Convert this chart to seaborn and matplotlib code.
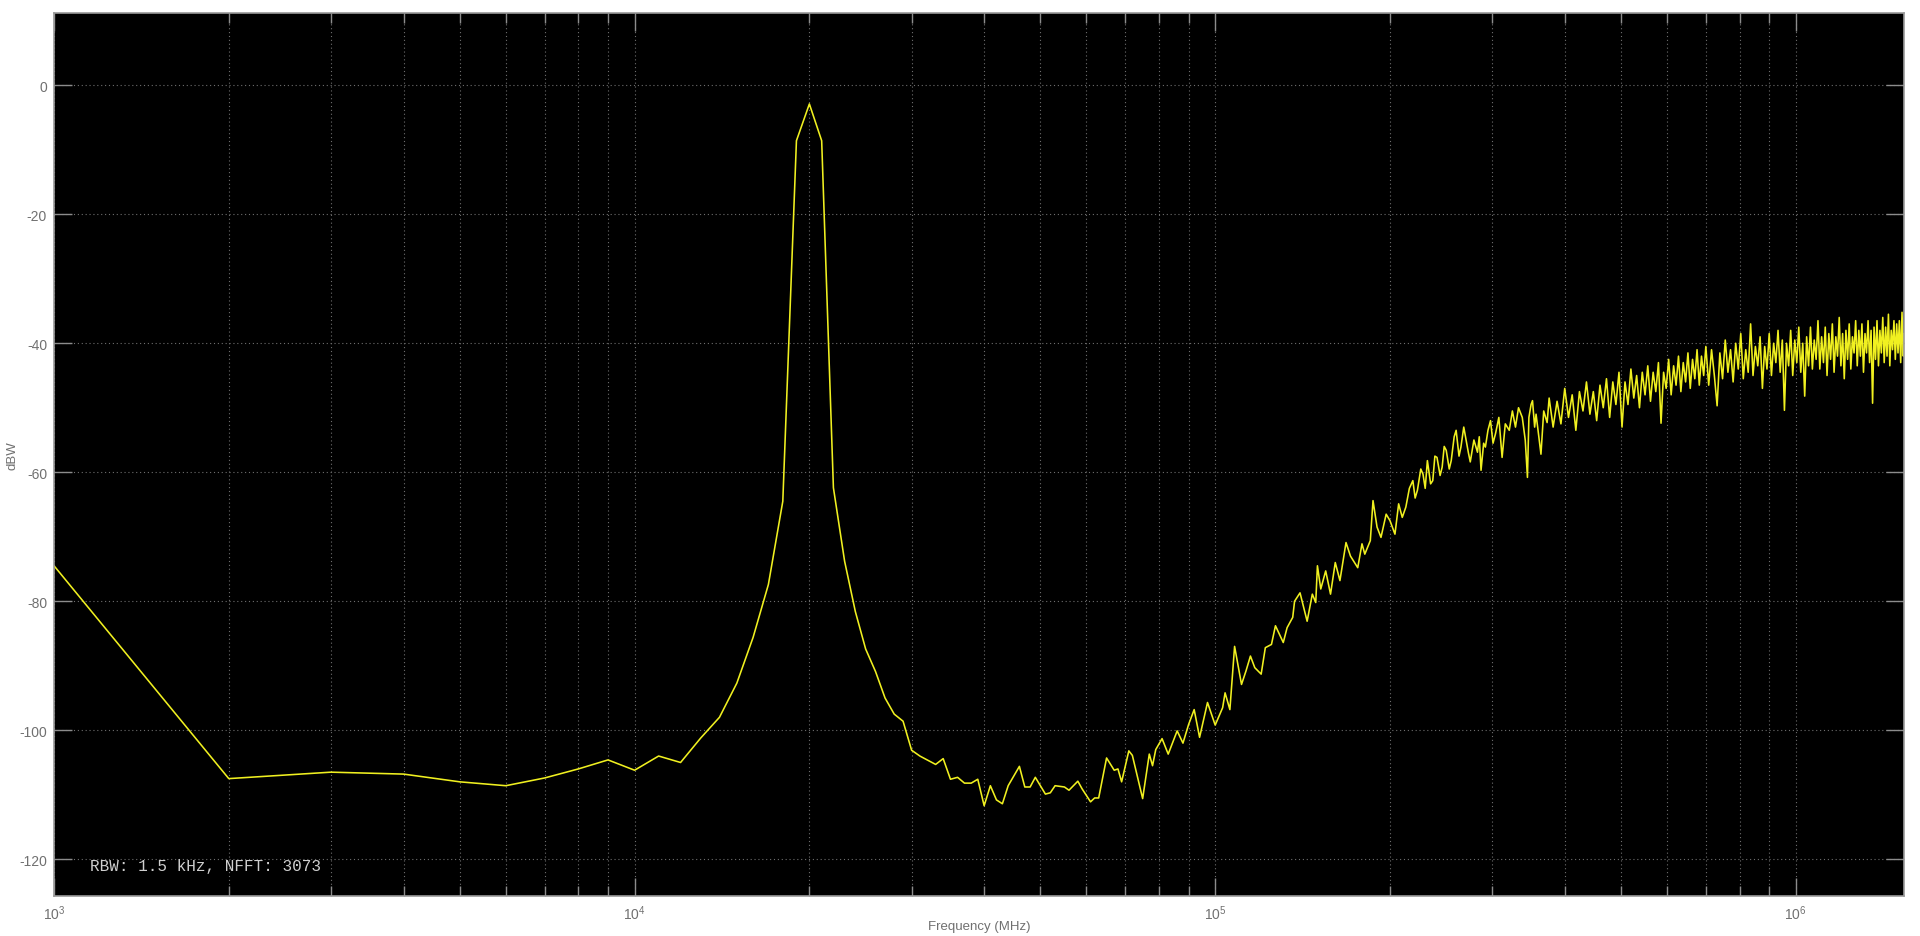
import numpy as np
import pandas as pd
import matplotlib
matplotlib.use("Agg")
import matplotlib.pyplot as plt
import seaborn as sns
from matplotlib.ticker import LogLocator, LogFormatterMathtext, NullFormatter

# ---------------- data (frequency in kHz, level in dBW) ----------------
freq_low_khz = [1, 2, 3, 4, 5, 6, 7, 8, 9, 10, 11, 12, 13, 14, 15, 16, 17, 18, 19, 20,
                21, 22, 23, 24, 25, 26, 27, 28, 29]
level_low = [-74.5, -107.5, -106.5, -106.8, -108.0, -108.6, -107.4, -106.0, -104.6, -106.2,
             -104.0, -105.0, -101.2, -98.0, -92.7, -85.6, -77.4, -64.5, -8.6, -2.9,
             -8.6, -62.4, -73.8, -81.6, -87.4, -90.9, -95.0, -97.5, -98.6]

freq_floor_khz = [30, 31, 33, 34, 35, 36, 37, 38, 39, 40, 41, 42, 43, 44, 46, 47, 48, 49, 51, 52,
                  53, 55, 56, 58, 59, 61, 62, 63, 65, 67, 68, 69, 71, 72, 75, 77, 78, 79, 81, 83,
                  86, 88, 90, 92, 94, 97, 100, 103, 104, 106, 108, 111, 113]
level_floor = [-103.1, -104.0, -105.3, -104.4, -107.6, -107.3, -108.2, -108.2, -107.6, -111.7,
               -108.6, -110.8, -111.4, -108.6, -105.6, -108.8, -108.8, -107.3, -109.9, -109.7,
               -108.6, -108.8, -109.3, -107.9, -109.1, -111.1, -110.5, -110.5, -104.3, -106.2,
               -106.0, -108.0, -103.2, -103.9, -110.6, -103.7, -105.5, -103.0, -101.3, -103.7,
               -100.1, -102.0, -99.1, -96.8, -101.1, -95.7, -99.2, -96.5, -94.2, -96.8,
               -87.0, -92.9, -90.8]

freq_rise_khz = [115, 117, 120, 122, 125, 127, 131, 133, 136, 137, 140, 144, 147, 149, 150, 152,
                 155, 158, 161, 164, 168, 171, 176, 179, 181, 185, 187, 190, 193, 197, 200, 204,
                 207, 210, 213, 216, 219, 221, 223, 226, 228, 230, 232, 235, 237, 239, 241, 244,
                 246, 248, 250, 253, 255, 258, 260, 263, 265, 268, 270, 273, 275, 279, 283, 285,
                 287, 290, 292, 295, 298, 301, 304, 308, 312, 316, 321, 325, 329, 333, 338, 342,
                 345, 347, 350, 352, 355, 357, 361, 364, 368, 373]
level_rise = [-88.5, -90.3, -91.3, -87.2, -86.7, -83.8, -86.4, -84.1, -82.5, -80.0, -78.7, -83.1,
              -78.9, -80.2, -74.5, -78.1, -75.3, -78.9, -74.0, -76.8, -70.9, -73.0, -74.8, -71.1,
              -72.7, -70.6, -64.4, -68.5, -70.1, -66.5, -67.5, -69.6, -64.9, -67.0, -65.4, -62.5,
              -61.3, -64.0, -62.8, -59.5, -60.3, -62.5, -58.2, -61.8, -61.3, -57.5, -57.7, -60.5,
              -59.2, -56.0, -56.6, -59.5, -58.2, -54.5, -53.5, -57.5, -56.1, -53.0, -54.6, -57.0,
              -58.4, -55.0, -56.9, -54.5, -59.7, -55.5, -56.1, -53.5, -52.0, -55.5, -54.0, -51.5,
              -57.7, -52.5, -53.5, -50.5, -53.0, -50.0, -51.5, -55.0, -60.8, -51.5, -49.5, -48.9,
              -53.0, -51.0, -54.5, -57.2, -50.5, -52.3]

freq_mid_khz = [376, 382, 388, 394, 400, 406, 412, 418, 424, 430, 436, 442, 448, 454, 460, 466,
                472, 478, 484, 490, 496, 502, 508, 514, 520, 526, 532, 538, 544, 550, 556, 562,
                568, 574, 580, 586, 592, 598, 604, 610, 616, 622, 628, 634, 640, 646, 652, 658,
                664, 670, 676, 682, 688, 694, 700]
level_mid = [-48.5, -53.0, -49.0, -52.5, -47.0, -51.5, -48.0, -53.5, -47.5, -50.5, -46.0, -51.0,
             -47.5, -52.0, -46.5, -50.0, -45.5, -51.5, -46.0, -49.5, -44.5, -53.0, -46.0, -49.5,
             -44.0, -48.5, -45.0, -50.0, -44.5, -48.0, -43.5, -49.0, -44.5, -47.5, -43.0, -52.4,
             -44.5, -47.0, -42.5, -48.0, -43.5, -46.5, -42.0, -47.5, -43.0, -46.0, -41.5, -47.0,
             -42.5, -45.5, -41.0, -46.5, -42.0, -45.0, -40.5]

freq_high_khz = [708, 716, 724, 732, 740, 748, 756, 764, 772, 780, 788, 796, 804, 812, 820, 828,
                 836, 844, 852, 860, 868, 876, 884, 892, 900, 908, 916, 924, 932, 940, 948, 956,
                 964, 972, 980, 988, 996, 1004, 1012, 1020, 1028, 1036, 1044, 1052, 1060, 1068,
                 1076, 1084, 1092, 1100, 1108, 1116, 1124, 1132, 1140, 1148, 1156, 1164, 1172,
                 1180, 1188, 1196, 1204, 1212, 1220, 1228, 1236, 1244, 1252, 1260, 1268, 1276,
                 1284, 1292, 1300, 1308, 1316, 1324, 1332, 1340, 1348, 1356, 1364, 1372, 1380,
                 1388, 1396, 1404, 1412, 1420, 1428, 1436, 1444, 1452, 1460, 1468, 1476, 1484,
                 1492, 1500, 1508, 1516, 1524, 1532, 1536]
level_high = [-46.5, -41.0, -45.0, -49.7, -41.5, -45.5, -39.5, -44.5,
              -41.0, -46.0, -40.0, -44.0, -38.5, -45.5, -41.0, -44.5,
              -37.0, -45.0, -40.5, -43.5, -39.0, -47.0, -40.5, -44.0,
              -38.5, -45.0, -40.0, -43.0, -38.0, -44.5, -39.5, -50.4,
              -40.0, -43.5, -38.0, -45.0, -39.5, -43.0, -37.5, -44.5,
              -40.0, -48.2, -39.0, -43.5, -37.5, -44.0, -39.5, -42.5,
              -36.5, -44.0, -39.0, -43.0, -37.5, -45.0, -38.5, -42.5,
              -37.0, -44.5, -39.0, -42.0, -36.0, -43.5, -38.5, -45.5,
              -38.0, -42.5, -37.0, -44.0, -39.0, -41.5, -36.5, -43.5,
              -38.0, -42.0, -37.0, -44.5, -38.5, -41.5, -36.5, -43.0,
              -38.0, -49.3, -37.5, -42.5, -36.5, -43.5, -38.0, -41.5,
              -36.0, -43.0, -37.5, -42.0, -35.5, -43.5, -38.0, -41.0,
              -36.5, -42.5, -37.0, -41.5, -36.5, -43.0, -35.2, -42.0, -38.5]

y_ticks = [0, -20, -40, -60, -80, -100, -120]
annotation = "RBW: 1.5 kHz, NFFT: 3073"

# ---------------- build frame ----------------
freq_khz = freq_low_khz + freq_floor_khz + freq_rise_khz + freq_mid_khz + freq_high_khz
levels = level_low + level_floor + level_rise + level_mid + level_high
df = pd.DataFrame({"freq_hz": np.array(freq_khz, dtype=float) * 1000.0,
                   "dBW": levels})

# ---------------- style ----------------
sns.set_theme(style="ticks")
plt.rcParams["font.family"] = ["Liberation Sans", "DejaVu Sans"]
plt.rcParams["mathtext.fontset"] = "custom"
plt.rcParams["mathtext.rm"] = "Liberation Sans"
plt.rcParams["mathtext.it"] = "Liberation Sans"
plt.rcParams["mathtext.bf"] = "Liberation Sans"

grey = "#8c8c8c"
label_grey = "#707070"

fig = plt.figure(figsize=(19.2, 9.37), dpi=100, facecolor="white")
ax_h = (897 - 14) / 937
ax_w = (1904 - 54) / 1920
ax = fig.add_axes([54 / 1920, 1 - 897 / 937, ax_w, ax_h])
ax.set_facecolor("black")

sns.lineplot(data=df, x="freq_hz", y="dBW", ax=ax, color="#f0f020",
             linewidth=1.15, estimator=None, sort=False, legend=False)

ax.set_xscale("log")
ax.set_xlim(1e3, 1.536e6)
ax.set_ylim(-125.7, 11.2)

ax.xaxis.set_major_locator(LogLocator(base=10, numticks=10))
ax.xaxis.set_major_formatter(LogFormatterMathtext())
ax.xaxis.set_minor_locator(LogLocator(base=10, subs=np.arange(2, 10), numticks=50))
ax.xaxis.set_minor_formatter(NullFormatter())
ax.set_yticks(y_ticks)
ax.set_yticklabels([str(v) for v in y_ticks])

ax.grid(which="major", axis="both", color="#6e6e6e", linestyle=(0, (1, 2.5)), linewidth=0.8)
ax.grid(which="minor", axis="x", color="#6e6e6e", linestyle=(0, (1, 2.5)), linewidth=0.8)

for s in ax.spines.values():
    s.set_color("#9a9a9a")
    s.set_linewidth(1.2)

ax.tick_params(axis="both", which="major", direction="in", length=13, width=1.0,
               color=grey, labelcolor=label_grey, labelsize=10,
               top=True, right=True, pad=5)
ax.tick_params(axis="x", which="minor", direction="in", length=7.5, width=1.0,
               color=grey, top=True, bottom=True)
ax.tick_params(axis="y", which="minor", left=False, right=False)

ax.set_xlabel("Frequency (MHz)", color=label_grey, fontsize=9.5)
ax.xaxis.set_label_coords(0.5, -(927 - 897) / 937 / ax_h)
ax.xaxis.label.set_va("center")
ax.set_ylabel("dBW", color=label_grey, fontsize=9.5)
ax.yaxis.set_label_coords(-(54 - 13) / 1920 / ax_w, 0.5)
ax.yaxis.label.set_va("center")

ax.text(0.0195, 0.034, annotation, transform=ax.transAxes, color="#cfcfcf",
        fontsize=11.5, family=["Liberation Mono", "DejaVu Sans Mono"],
        ha="left", va="center")

fig.savefig("out.png", dpi=100, facecolor="white")
